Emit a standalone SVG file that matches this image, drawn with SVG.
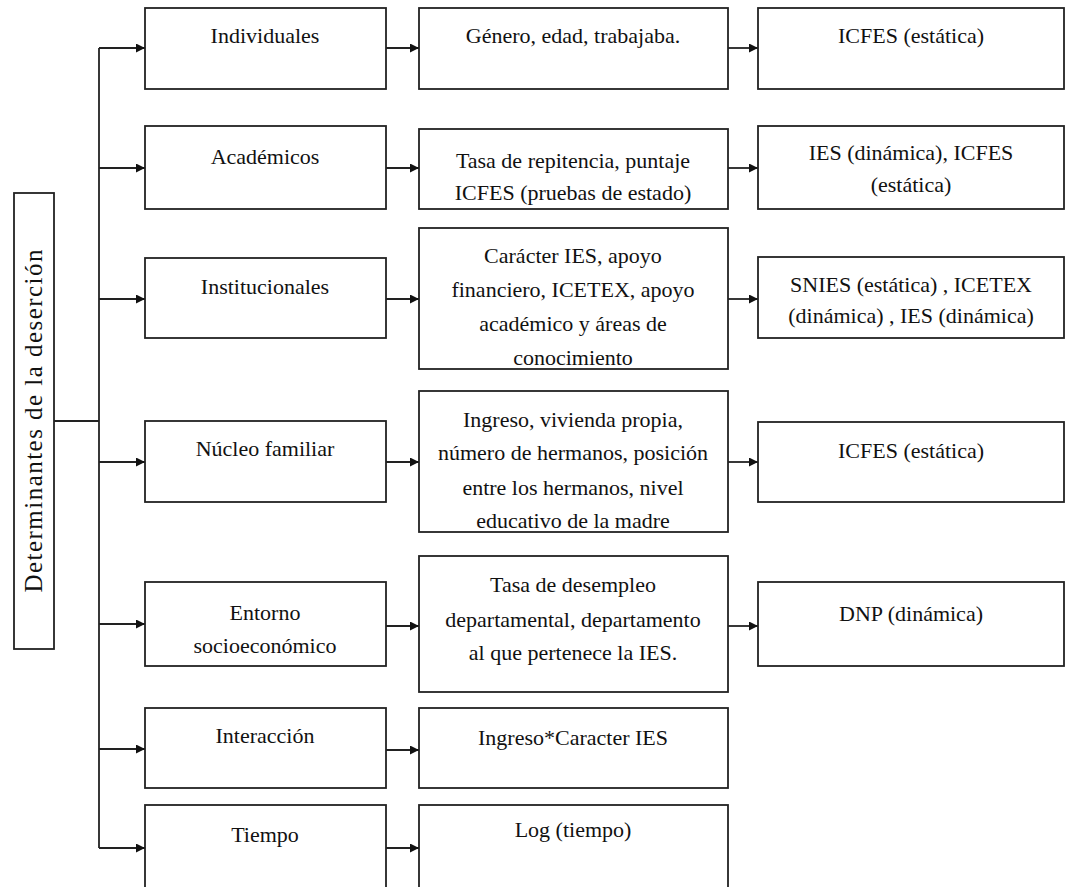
<svg xmlns="http://www.w3.org/2000/svg" width="1066" height="887" viewBox="0 0 1066 887">
<style>
.box{fill:#fff;stroke:#222;stroke-width:1.8}
.t{font-family:"Liberation Serif","Times New Roman",serif;font-size:22px;fill:#111;text-anchor:middle}
.c{fill:none;stroke:#222;stroke-width:1.8}
</style>
<defs>
<marker id="ah" viewBox="0 0 10 10" refX="10" refY="5" markerWidth="5" markerHeight="5" markerUnits="strokeWidth" orient="auto">
<path d="M0,0 L10,5 L0,10 Z" fill="#111"/>
</marker>
</defs>
<rect width="1066" height="887" fill="#fff"/>

<g id="connectors">
<path class="c" d="M54,421 H99"/>
<path class="c" d="M99,48 V848"/>
<path class="c" d="M99,48 H145" marker-end="url(#ah)"/>
<path class="c" d="M99,168 H145" marker-end="url(#ah)"/>
<path class="c" d="M99,299 H145" marker-end="url(#ah)"/>
<path class="c" d="M99,462 H145" marker-end="url(#ah)"/>
<path class="c" d="M99,624 H145" marker-end="url(#ah)"/>
<path class="c" d="M99,749 H145" marker-end="url(#ah)"/>
<path class="c" d="M99,848 H145" marker-end="url(#ah)"/>
<path class="c" d="M386,48 H419" marker-end="url(#ah)"/>
<path class="c" d="M386,168 H419" marker-end="url(#ah)"/>
<path class="c" d="M386,299 H419" marker-end="url(#ah)"/>
<path class="c" d="M386,462 H419" marker-end="url(#ah)"/>
<path class="c" d="M386,626 H419" marker-end="url(#ah)"/>
<path class="c" d="M386,750 H419" marker-end="url(#ah)"/>
<path class="c" d="M386,848 H419" marker-end="url(#ah)"/>
<path class="c" d="M728,48 H758" marker-end="url(#ah)"/>
<path class="c" d="M728,168 H758" marker-end="url(#ah)"/>
<path class="c" d="M728,299 H758" marker-end="url(#ah)"/>
<path class="c" d="M728,462 H758" marker-end="url(#ah)"/>
<path class="c" d="M728,626 H758" marker-end="url(#ah)"/>
</g>

<g id="root">
<rect class="box" x="14" y="193" width="40" height="456"/>
<text class="t" style="font-size:25px" transform="translate(42,421) rotate(-90)" textLength="343" lengthAdjust="spacing">Determinantes de la deserción</text>
</g>

<g id="individuales">
<rect class="box" x="145" y="8" width="241" height="81"/>
<text class="t" x="265" y="43">Individuales</text>
</g>
<g id="academicos">
<rect class="box" x="145" y="126" width="241" height="83"/>
<text class="t" x="265" y="164">Académicos</text>
</g>
<g id="institucionales">
<rect class="box" x="145" y="258" width="241" height="80"/>
<text class="t" x="265" y="294">Institucionales</text>
</g>
<g id="nucleo">
<rect class="box" x="145" y="421" width="241" height="81"/>
<text class="t" x="265" y="456">Núcleo familiar</text>
</g>
<g id="entorno">
<rect class="box" x="145" y="582" width="241" height="84"/>
<text class="t" x="265" y="620">Entorno</text>
<text class="t" x="265" y="653">socioeconómico</text>
</g>
<g id="interaccion">
<rect class="box" x="145" y="708" width="241" height="80"/>
<text class="t" x="265" y="743">Interacción</text>
</g>
<g id="tiempo">
<rect class="box" x="145" y="805" width="241" height="100"/>
<text class="t" x="265" y="842">Tiempo</text>
</g>

<g id="genero">
<rect class="box" x="419" y="8" width="309" height="81"/>
<text class="t" x="573" y="43">Género, edad, trabajaba.</text>
</g>
<g id="repitencia">
<rect class="box" x="419" y="129" width="309" height="80"/>
<text class="t" x="573" y="168">Tasa de repitencia, puntaje</text>
<text class="t" x="573" y="200">ICFES (pruebas de estado)</text>
</g>
<g id="caracter">
<rect class="box" x="419" y="228" width="309" height="141"/>
<text class="t" x="573" y="263">Carácter IES, apoyo</text>
<text class="t" x="573" y="297">financiero, ICETEX, apoyo</text>
<text class="t" x="573" y="331">académico y áreas de</text>
<text class="t" x="573" y="365">conocimiento</text>
</g>
<g id="ingreso">
<rect class="box" x="419" y="391" width="309" height="141"/>
<text class="t" x="573" y="427">Ingreso, vivienda propia,</text>
<text class="t" x="573" y="460">número de hermanos, posición</text>
<text class="t" x="573" y="495">entre los hermanos, nivel</text>
<text class="t" x="573" y="528">educativo de la madre</text>
</g>
<g id="desempleo">
<rect class="box" x="419" y="556" width="309" height="136"/>
<text class="t" x="573" y="592">Tasa de desempleo</text>
<text class="t" x="573" y="627">departamental, departamento</text>
<text class="t" x="573" y="660">al que pertenece la IES.</text>
</g>
<g id="ingreso-caracter">
<rect class="box" x="419" y="708" width="309" height="80"/>
<text class="t" x="573" y="745">Ingreso*Caracter IES</text>
</g>
<g id="log">
<rect class="box" x="419" y="805" width="309" height="100"/>
<text class="t" x="573" y="837">Log (tiempo)</text>
</g>

<g id="icfes1">
<rect class="box" x="758" y="8" width="306" height="81"/>
<text class="t" x="911" y="43">ICFES (estática)</text>
</g>
<g id="ies">
<rect class="box" x="758" y="126" width="306" height="83"/>
<text class="t" x="911" y="160">IES (dinámica), ICFES</text>
<text class="t" x="911" y="192">(estática)</text>
</g>
<g id="snies">
<rect class="box" x="758" y="257" width="306" height="81"/>
<text class="t" x="911" y="292">SNIES (estática) , ICETEX</text>
<text class="t" x="911" y="323">(dinámica) , IES (dinámica)</text>
</g>
<g id="icfes2">
<rect class="box" x="758" y="422" width="306" height="80"/>
<text class="t" x="911" y="458">ICFES (estática)</text>
</g>
<g id="dnp">
<rect class="box" x="758" y="582" width="306" height="84"/>
<text class="t" x="911" y="621">DNP (dinámica)</text>
</g>
</svg>
